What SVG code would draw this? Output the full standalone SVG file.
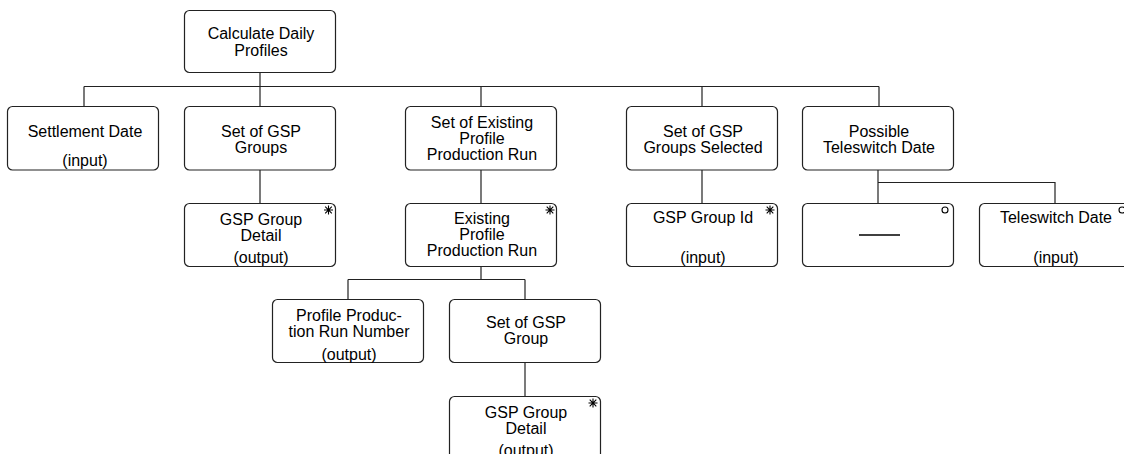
<svg xmlns="http://www.w3.org/2000/svg" width="1124" height="454" viewBox="0 0 1124 454">
<style>
.box{fill:#fff;stroke:#222;stroke-width:1.2}
.conn{fill:none;stroke:#222;stroke-width:1.2}
text{font-family:"Liberation Sans",Arial,sans-serif;font-size:16px;fill:#000;text-anchor:middle}
.mk{fill:none;stroke:#000;stroke-width:1.1}
</style>
<defs>
<g id="star" class="mk"><path d="M0,-4.5V4.5M-4.5,0H4.5M-3.3,-3.3L3.3,3.3M-3.3,3.3L3.3,-3.3"/></g>
<circle id="opt" r="3" class="mk"/>
</defs>
<rect width="1124" height="454" fill="#fff"/>
<g id="connectors">
<path class="conn" d="M260,73V86.5M84,86.5H879M84,86.5V106.5M260,86.5V106.5M481,86.5V106.5M702,86.5V106.5M879,86.5V106.5"/>
<path class="conn" d="M260,170V203.5M481,170V203.5M702,170V203.5M878,170V203.5M878,182.5H1055V203.5"/>
<path class="conn" d="M481,266.5V279.5M348,279.5H525M348,279.5V299.5M525,279.5V299.5"/>
<path class="conn" d="M525,362.5V396.5"/>
</g>
<g id="n-calc"><rect class="box" x="184.5" y="10.5" width="151" height="62" rx="5"/><text x="261" y="39">Calculate Daily</text><text x="261" y="56">Profiles</text></g>
<g id="n-settle"><rect class="box" x="7.5" y="106.5" width="151" height="63.5" rx="5"/><text x="85" y="136.5">Settlement Date</text><text x="85" y="166">(input)</text></g>
<g id="n-setgsp"><rect class="box" x="184.5" y="106.5" width="151" height="63.5" rx="5"/><text x="261" y="136.5">Set of GSP</text><text x="261" y="152.5">Groups</text></g>
<g id="n-setexist"><rect class="box" x="405.5" y="106.5" width="151" height="63.5" rx="5"/><text x="482" y="128">Set of Existing</text><text x="482" y="144">Profile</text><text x="482" y="160">Production Run</text></g>
<g id="n-setsel"><rect class="box" x="626.5" y="106.5" width="151" height="63.5" rx="5"/><text x="703" y="136.5">Set of GSP</text><text x="703" y="152.5">Groups Selected</text></g>
<g id="n-possible"><rect class="box" x="802.5" y="106.5" width="151" height="63.5" rx="5"/><text x="879" y="136.5">Possible</text><text x="879" y="152.5">Teleswitch Date</text></g>
<g id="n-gspdetail1"><rect class="box" x="184.5" y="203.5" width="151" height="63" rx="5"/><text x="261" y="224.5">GSP Group</text><text x="261" y="240.5">Detail</text><text x="261" y="263">(output)</text><use href="#star" x="328.5" y="210"/></g>
<g id="n-exist"><rect class="box" x="405.5" y="203.5" width="151" height="63" rx="5"/><text x="482" y="224">Existing</text><text x="482" y="240">Profile</text><text x="482" y="255.5">Production Run</text><use href="#star" x="550" y="210"/></g>
<g id="n-gspid"><rect class="box" x="626.5" y="203.5" width="151" height="63" rx="5"/><text x="703" y="223">GSP Group Id</text><text x="703" y="263">(input)</text><use href="#star" x="770" y="210"/></g>
<g id="n-blank"><rect class="box" x="802.5" y="203.5" width="151" height="63" rx="5"/><path d="M859,235H900" stroke="#000" stroke-width="1.5"/><use href="#opt" x="945" y="210"/></g>
<g id="n-teledate"><rect class="box" x="979.5" y="203.5" width="151" height="63" rx="5"/><text x="1056" y="223">Teleswitch Date</text><text x="1056" y="263">(input)</text><use href="#opt" x="1122" y="210"/></g>
<g id="n-pprn"><rect class="box" x="272.5" y="299.5" width="151" height="63" rx="5"/><text x="349" y="320.5">Profile Produc-</text><text x="349" y="336.5">tion Run Number</text><text x="349" y="360">(output)</text></g>
<g id="n-setgsp2"><rect class="box" x="449.5" y="299.5" width="151" height="63" rx="5"/><text x="526" y="328">Set of GSP</text><text x="526" y="344">Group</text></g>
<g id="n-gspdetail2"><rect class="box" x="449.5" y="396.5" width="151" height="63" rx="5"/><text x="526" y="417.5">GSP Group</text><text x="526" y="433.5">Detail</text><text x="526" y="456">(output)</text><use href="#star" x="593" y="403"/></g>
</svg>
